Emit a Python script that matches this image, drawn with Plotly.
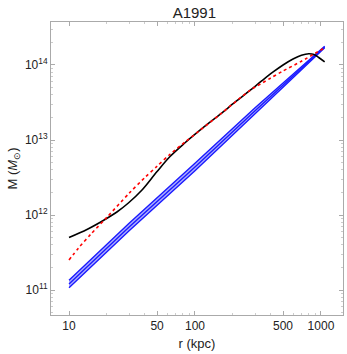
import plotly.graph_objects as go

# data (r in kpc, M in solar masses, given as log10 values)
r_black = [10, 14, 19.3, 24, 29.6, 37.8, 50, 63.4, 83, 106, 130, 158, 210, 273, 340, 420, 500, 600, 700, 800, 880, 960, 1070]
logM_black = [11.70, 11.81, 11.94, 12.04, 12.16, 12.33, 12.58, 12.78, 12.96, 13.11, 13.23, 13.34, 13.51, 13.66, 13.79, 13.91, 14.00, 14.08, 14.13, 14.15, 14.14, 14.10, 14.04]

r_red = [10, 11.9, 15, 20, 30, 40, 50, 63.4, 83, 106, 158, 273, 394, 500, 700, 1070]
logM_red = [11.40, 11.56, 11.75, 11.97, 12.29, 12.50, 12.65, 12.81, 12.97, 13.11, 13.34, 13.66, 13.82, 13.92, 14.05, 14.23]

r_blue = [10, 30, 100, 300, 1070]
logM_blue_hi = [11.13, 11.89, 12.69, 13.43, 14.25]
logM_blue_mid = [11.08, 11.84, 12.64, 13.39, 14.24]
logM_blue_lo = [11.03, 11.79, 12.59, 13.35, 14.23]

x_ticks = [10, 50, 100, 500, 1000]
y_tick_exps = [11, 12, 13, 14]

fig = go.Figure()
blue = "#1a1aff"
band = "rgba(160,160,255,0.85)"
fig.add_trace(go.Scatter(x=r_blue, y=[10**v for v in logM_blue_hi], mode="lines",
                         line=dict(color=blue, width=1.4), showlegend=False))
fig.add_trace(go.Scatter(x=r_blue, y=[10**v for v in logM_blue_mid], mode="lines",
                         line=dict(color=blue, width=1.4), fill="tonexty",
                         fillcolor=band, showlegend=False))
fig.add_trace(go.Scatter(x=r_blue, y=[10**v for v in logM_blue_lo], mode="lines",
                         line=dict(color=blue, width=1.4), fill="tonexty",
                         fillcolor=band, showlegend=False))
fig.add_trace(go.Scatter(x=r_black, y=[10**v for v in logM_black], mode="lines",
                         line=dict(color="black", width=1.6, shape="spline", smoothing=1.0), showlegend=False))
fig.add_trace(go.Scatter(x=r_red, y=[10**v for v in logM_red], mode="lines",
                         line=dict(color="#ff0000", width=1.6, dash="dot", shape="spline", smoothing=0.8), showlegend=False))

font = "Liberation Sans, Arial, sans-serif"
fig.update_layout(
    width=347, height=354,
    margin=dict(l=51, r=4, t=22, b=39, autoexpand=False),
    paper_bgcolor="white", plot_bgcolor="white",
    title=dict(text="A1991", x=0.56, xanchor="center", y=0.965, yanchor="middle",
               font=dict(family=font, size=15, color="#222"), automargin=False),
    font=dict(family=font, size=12, color="#222"),
)
fig.update_xaxes(type="log", range=[0.857, 3.175], automargin=False,
                 tickvals=x_ticks, ticktext=[str(v) for v in x_ticks],
                 ticks="inside", ticklen=4, tickcolor="#aaa", mirror="ticks",
                 showline=True, linecolor="#aaa", linewidth=1, showgrid=False, zeroline=False,
                 minor=dict(ticks="inside", ticklen=2, tickcolor="#ccc", showgrid=False,
                            tickvals=[20, 30, 40, 60, 70, 80, 90, 200, 300, 400, 600, 700, 800, 900]),
                 title=dict(text="r (kpc)", font=dict(size=13), standoff=6),
                 tickfont=dict(size=12))
fig.update_yaxes(type="log", range=[10.667, 14.573], automargin=False,
                 tickvals=[10**e for e in y_tick_exps],
                 ticktext=["10<sup>%d</sup>" % e for e in y_tick_exps],
                 ticks="inside", ticklen=4, tickcolor="#aaa", mirror="ticks",
                 showline=True, linecolor="#aaa", linewidth=1, showgrid=False, zeroline=False,
                 minor=dict(ticks="inside", ticklen=2, tickcolor="#ccc", showgrid=False,
                            tickvals=[m * 10**e for e in [10, 11, 12, 13, 14] for m in range(2, 10)]),
                 title=dict(text="M (<i>M</i><sub>⊙</sub>)", font=dict(size=13), standoff=4),
                 tickfont=dict(size=12))

fig.write_html("out.html", config={"displayModeBar": False},
               post_script="document.body.style.margin='0';document.body.style.overflow='hidden';")
